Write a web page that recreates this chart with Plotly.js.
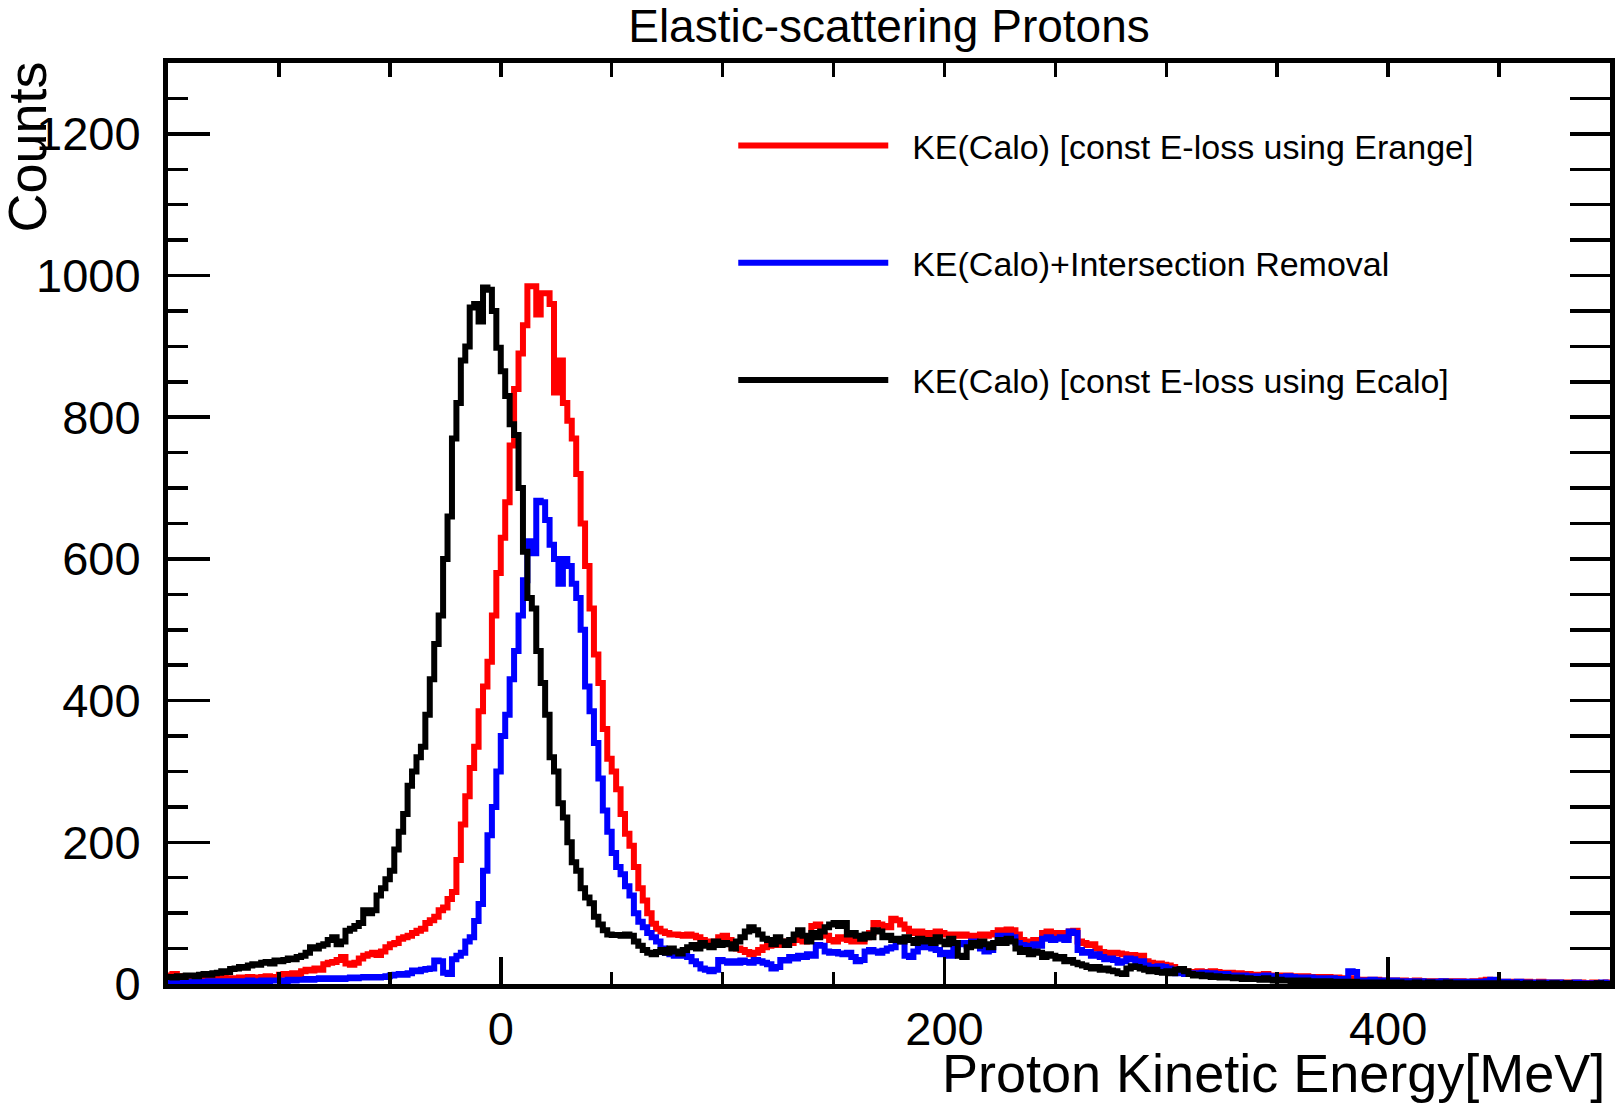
<!DOCTYPE html>
<html>
<head>
<meta charset="utf-8">
<script src="https://cdn.plot.ly/plotly-3.0.1.min.js"></script>
<style>html,body{margin:0;padding:0;background:#fff;}#chart{width:1615px;height:1110px;}</style>
</head>
<body>
<div id="chart"></div>
<script>
// Histogram binning (MeV)
const BIN_LO = -150;
const BIN_W = 2;

// KE(Calo) [const E-loss using Erange]  (red)
const ke_erange = [
  12,14,11,10,9,   8,9,7,8,9,   7,8,9,8,7,   8,9,8,10,9,   9,10,11,9,10,
  13,14,12,15,14,  18,20,19,22,20,  28,30,31,34,38,  29,27,30,36,40,  42,44,41,46,52,
  56,58,64,66,68,  72,75,78,86,90,  95,104,108,120,130,  175,225,265,305,335,  385,420,455,520,580,
  630,680,760,840,890,  930,985,985,945,975,  975,960,835,880,820,  795,770,720,650,590,  530,465,425,360,318,
  300,275,240,212,195,  165,135,118,100,85,  78,74,72,70,70,  69,68,70,68,66,  62,60,58,60,66,
  68,62,52,50,48,  45,42,44,48,52,  54,56,55,58,60,  58,62,64,60,66,  82,84,70,68,62,
  60,66,64,62,60,  64,60,66,72,86,  84,82,80,92,90,  84,78,74,72,74,  72,70,72,74,72,
  70,68,70,68,70,  68,66,68,70,68,  70,72,76,75,77,  76,70,62,60,58,  62,60,72,74,72,
  70,72,68,74,75,  60,58,55,56,50,  45,44,42,44,43,  42,40,41,38,40,  32,30,28,29,27,
  26,24,19,18,18,  17,16,18,17,16,  18,17,16,15,16,  14,15,13,14,12,  13,12,14,12,11,
  12,11,12,10,11,  10,11,9,10,10,  9,10,8,9,8,  7,8,7,6,6,  6,5,6,5,5,
  5,5,4,5,4,  4,5,4,4,3,  4,3,4,3,4,  3,4,3,3,4,  3,5,6,4,3,
  3,3,2,3,3,  2,3,2,2,3,  2,2,2,1,2,  2,1,2,2,1,  1,2,1,1,2
];

// KE(Calo)+Intersection Removal  (blue)
const ke_intersection = [
  2,3,2,3,2,   3,2,3,3,4,   3,4,3,4,3,   4,3,4,5,4,   4,5,4,5,5,
  5,4,6,5,6,   6,7,6,7,8,   7,8,7,8,7,   8,9,8,9,10,   9,10,9,10,11,
  12,13,14,13,15,  19,18,20,21,22,  33,32,16,14,35,  40,44,60,66,89,  113,160,210,250,300,
  350,380,430,470,520,  570,625,608,682,680,  655,620,600,565,600,  590,565,545,500,420,  385,340,290,245,215,
  185,165,155,138,125,  100,88,80,72,66,  60,50,44,42,40,  42,40,38,32,28,  22,20,18,20,34,
  32,30,32,30,33,  31,30,34,32,30,  28,22,24,34,33,  38,36,40,38,42,  40,55,54,46,44,
  45,43,42,44,38,  32,34,46,48,46,  44,47,50,52,60,  62,40,38,46,52,  54,52,50,48,42,
  44,40,52,56,58,  54,60,55,50,46,  48,58,68,66,68,  66,58,55,54,52,  56,54,64,66,62,
  64,66,62,74,72,  48,44,45,40,42,  38,35,36,34,30,  32,36,35,30,32,  26,24,23,25,24,
  22,20,15,16,14,  15,14,15,16,14,  15,14,13,14,12,  12,11,12,10,11,  11,10,12,11,10,
  10,9,11,10,9,  9,8,9,8,8,  8,7,8,7,7,  6,18,17,5,5,  5,6,5,4,5,
  4,5,4,4,3,  4,3,4,3,3,  3,3,4,3,3,  3,2,3,3,2,  3,2,4,6,3,
  2,3,2,2,3,  2,2,1,2,2,  1,2,1,2,1,  1,1,2,1,1,  1,1,1,2,1
];

// KE(Calo) [const E-loss using Ecalo]  (black)
const ke_ecalo = [
  10,9,11,10,12,   12,11,13,14,13,   15,16,18,17,21,   22,24,23,26,28,   27,30,31,29,33,
  32,34,36,35,38,  40,44,52,50,54,  56,62,66,56,60,  75,78,82,86,104,  100,104,125,135,148,
  160,190,215,240,280,  300,320,335,380,430,  480,520,600,660,770,  820,880,900,955,960,  935,983,980,950,898,
  865,830,790,775,700,  610,545,530,470,425,  380,320,300,255,235,  200,172,160,135,122,  114,95,84,76,70,
  69,69,68,70,68,  60,54,48,44,42,  45,48,44,50,46,  43,48,52,55,50,  58,54,52,60,55,
  58,56,50,60,66,  74,80,76,70,64,  62,56,66,60,55,  62,70,76,68,60,  72,66,74,80,84,
  86,82,86,70,72,  68,64,70,66,76,  74,66,68,62,64,  60,66,62,58,64,  60,62,58,66,60,
  56,64,58,40,38,  52,58,54,60,56,  52,58,62,58,64,  60,50,45,48,42,  46,44,38,42,40,
  36,38,32,34,30,  28,26,24,22,24,  20,22,19,18,15,  14,22,25,24,22,  20,18,20,17,16,
  18,15,20,21,18,  14,12,13,11,12,  10,11,9,10,9,  8,9,7,8,7,  7,6,8,6,5,
  6,5,5,4,5,  4,5,4,3,4,  3,4,3,3,2,  3,2,3,2,2,  2,2,1,2,2,
  2,1,2,1,1,  1,2,1,1,2,  1,1,1,2,1,  1,1,0,1,1,  1,0,1,1,0,
  1,1,0,1,0,  0,1,0,0,1,  0,0,1,0,0,  1,0,0,0,0,  0,0,1,0,0
];

const seriesNames = [
  "KE(Calo) [const E-loss using Erange]",
  "KE(Calo)+Intersection Removal",
  "KE(Calo) [const E-loss using Ecalo]"
];
const seriesColors = ["#ff0000", "#0000ff", "#000000"];
const seriesData = [ke_erange, ke_intersection, ke_ecalo];

const xTitle = "Proton Kinetic Energy[MeV]";
const yTitle = "Counts";
const plotTitle = "Elastic-scattering Protons";

const LEGEND_PAD = "\u00a0\u00a0";

function stepTrace(vals, name, color, group) {
  const xs = [], ys = [];
  for (let i = 0; i < vals.length; i++) { xs.push(BIN_LO + i * BIN_W); ys.push(vals[i]); }
  xs.push(BIN_LO + vals.length * BIN_W); ys.push(vals[vals.length - 1]);
  return {
    type: "scatter", mode: "lines", x: xs, y: ys, name: LEGEND_PAD + name,
    legendgroup: group,
    line: { shape: "hv", color: color, width: 6 },
    hoverinfo: "skip"
  };
}

const traces = seriesData.map((v, i) => stepTrace(v, seriesNames[i], seriesColors[i], "g" + i));
// helper trace to realise the top/right tick axes
traces.push({ type: "scatter", mode: "lines", x: [], y: [], xaxis: "x2", yaxis: "y2", showlegend: false, hoverinfo: "skip" });

const FONT = '"Liberation Sans", Arial, Helvetica, sans-serif';

const layout = {
  width: 1615, height: 1110,
  margin: { l: 168, r: 5, t: 63, b: 126 },
  paper_bgcolor: "#ffffff", plot_bgcolor: "#ffffff",
  font: { family: FONT, color: "#000000" },
  showlegend: true,
  title: { text: plotTitle, font: { family: FONT, size: 46, color: "#000" },
           x: 0.5, xref: "paper", xanchor: "center", y: 0.977, yref: "container", yanchor: "middle" },
  legend: {
    x: 0.392, y: 0.9415, xanchor: "left", yanchor: "top",
    bgcolor: "rgba(0,0,0,0)", borderwidth: 0,
    font: { family: FONT, size: 34, color: "#000" },
    traceorder: "grouped", tracegroupgap: 70, itemwidth: 150
  },
  xaxis: {
    range: [-150, 500], showgrid: false, zeroline: false,
    showline: true, linewidth: 5, linecolor: "#000", mirror: true,
    ticks: "inside", tick0: 0, dtick: 200, ticklen: 27, tickwidth: 3.5, tickcolor: "#000",
    minor: { ticks: "inside", dtick: 50, tick0: 0, ticklen: 12, tickwidth: 3.5, tickcolor: "#000" },
    tickfont: { family: FONT, size: 47, color: "#000" },
    ticklabelstandoff: 0
  },
  yaxis: {
    range: [0, 1300], showgrid: false, zeroline: false,
    showline: true, linewidth: 5, linecolor: "#000", mirror: true,
    ticks: "inside", tick0: 0, dtick: 200, ticklen: 42, tickwidth: 3.5, tickcolor: "#000",
    minor: { ticks: "inside", dtick: 50, tick0: 0, ticklen: 20, tickwidth: 3.5, tickcolor: "#000" },
    tickfont: { family: FONT, size: 47, color: "#000" },
    ticklabelstandoff: 13
  },
  xaxis2: {
    overlaying: "x", side: "top", range: [-150, 500], showgrid: false, zeroline: false,
    showline: false, showticklabels: false,
    ticks: "inside", tick0: 0, dtick: 50, ticklen: 14, tickwidth: 3.5, tickcolor: "#000"
  },
  yaxis2: {
    overlaying: "y", side: "right", range: [0, 1300], showgrid: false, zeroline: false,
    showline: false, showticklabels: false,
    ticks: "inside", tick0: 0, dtick: 50, ticklen: 40, tickwidth: 3.5, tickcolor: "#000"
  },
  annotations: [
    { text: xTitle, xref: "paper", yref: "paper", x: 0.998, y: -0.097, xanchor: "right", yanchor: "middle",
      showarrow: false, font: { family: FONT, size: 54, color: "#000" } },
    { text: yTitle, xref: "paper", yref: "paper", x: -0.098, y: 0.909, xanchor: "center", yanchor: "middle",
      textangle: -90, showarrow: false, font: { family: FONT, size: 54, color: "#000" } }
  ]
};

Plotly.newPlot("chart", traces, layout, { staticPlot: true, displayModeBar: false });
</script>
</body>
</html>
